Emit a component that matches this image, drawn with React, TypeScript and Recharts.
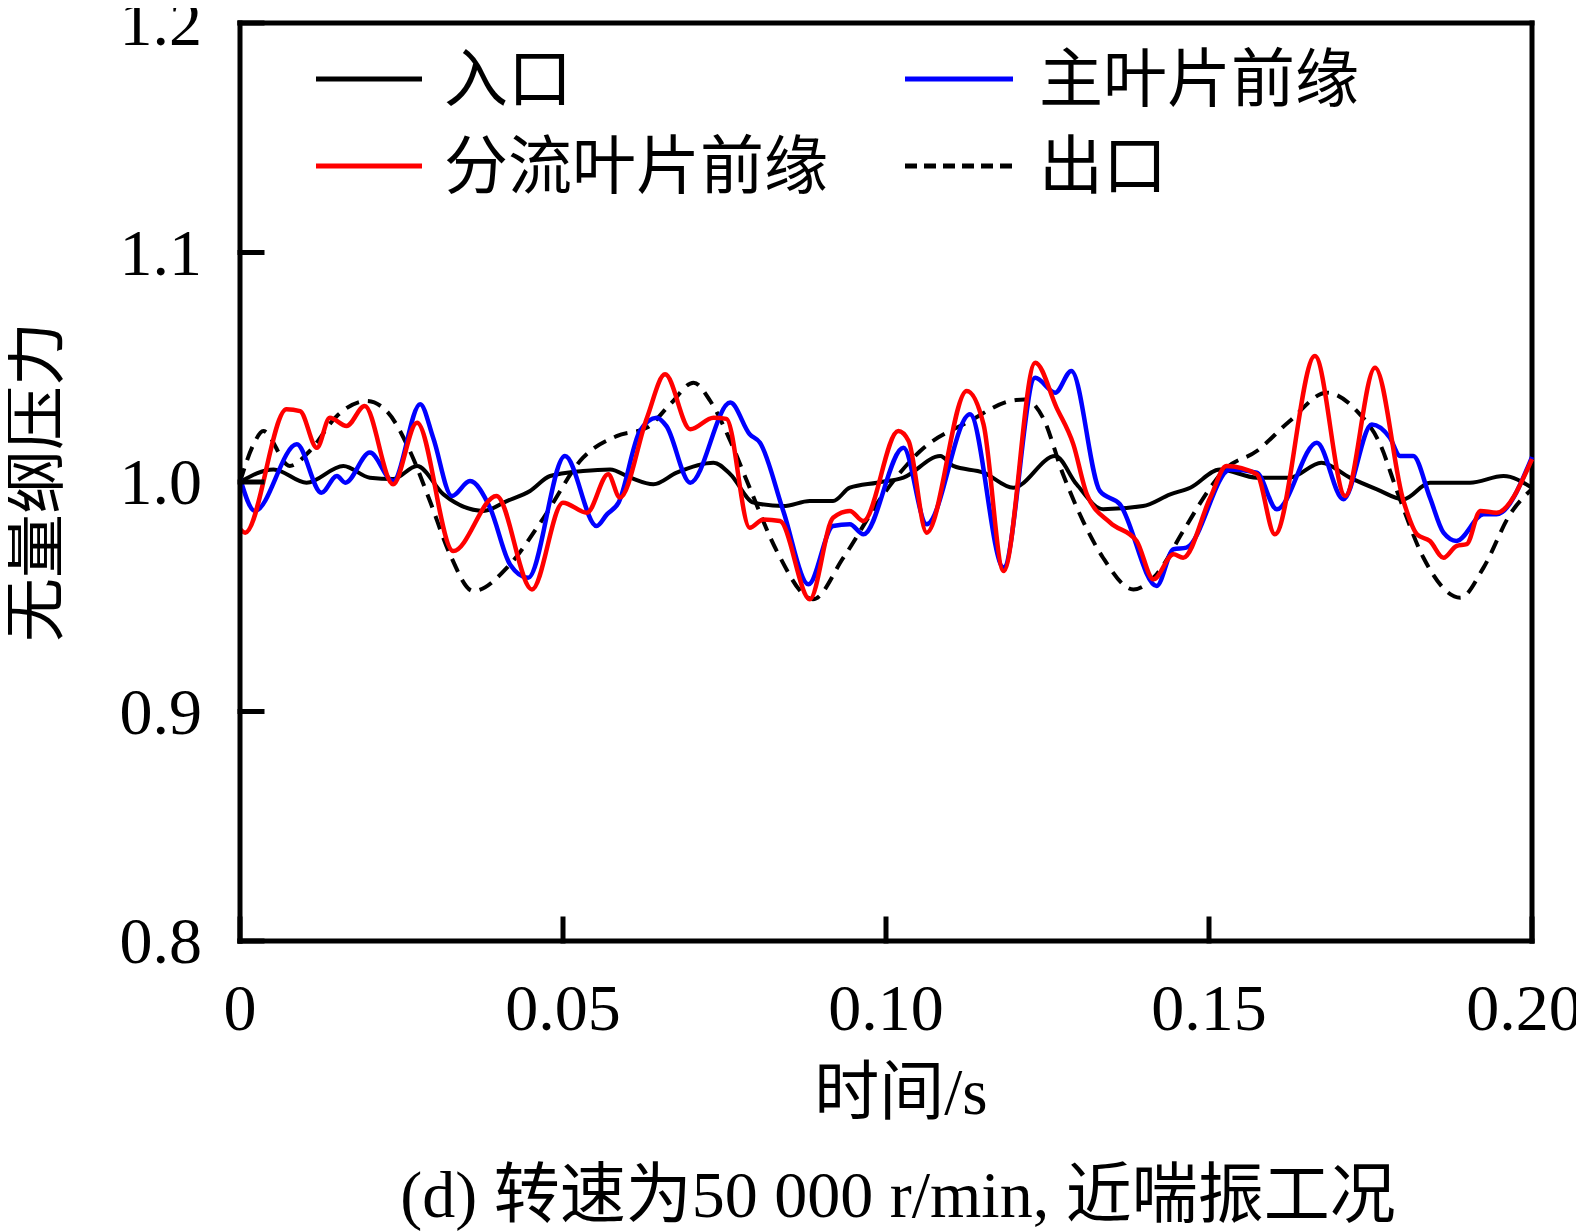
import React from 'react';
import { LineChart, Line, XAxis, YAxis, ReferenceLine } from 'recharts';

// 时间 (s) 与无量纲压力，按曲线分别取点
const inletT = [0, 0.0052, 0.0103, 0.016, 0.0201, 0.0237, 0.0274, 0.0315, 0.0377, 0.0413, 0.0449, 0.048, 0.0531, 0.0573, 0.0604, 0.064, 0.0676, 0.0733, 0.0759, 0.0795, 0.0841, 0.0882, 0.0918, 0.0944, 0.0986, 0.1027, 0.1084, 0.1104, 0.1151, 0.1197, 0.1262, 0.1295, 0.1336, 0.1398, 0.144, 0.1471, 0.1517, 0.1574, 0.1625, 0.1674, 0.1718, 0.176, 0.1801, 0.1842, 0.1904, 0.1956, 0.2];
const inletP = [1.0, 1.0055, 0.9997, 1.007, 1.0019, 1.0013, 1.007, 0.9946, 0.9874, 0.9917, 0.9961, 1.0026, 1.0048, 1.0055, 1.0019, 0.999, 1.0041, 1.0084, 1.0034, 0.991, 0.9895, 0.9917, 0.9917, 0.9975, 0.9997, 1.0019, 1.0113, 1.007, 1.0041, 0.9975, 1.0113, 0.999, 0.9881, 0.9895, 0.9946, 0.9975, 1.0055, 1.0019, 1.0019, 1.0084, 1.0019, 0.9968, 0.9925, 0.9997, 0.9997, 1.0026, 0.9975];

const mainT = [0, 0.0023, 0.0088, 0.0126, 0.015, 0.0163, 0.0201, 0.0237, 0.0279, 0.0299, 0.0328, 0.0356, 0.0387, 0.0418, 0.0446, 0.0503, 0.0552, 0.0568, 0.0586, 0.0619, 0.0645, 0.066, 0.0697, 0.0759, 0.0789, 0.0805, 0.0841, 0.088, 0.0918, 0.0944, 0.0965, 0.1027, 0.1063, 0.113, 0.1182, 0.1231, 0.1262, 0.1287, 0.1331, 0.1362, 0.1419, 0.1445, 0.1465, 0.1533, 0.1574, 0.1605, 0.1667, 0.1708, 0.1752, 0.178, 0.1796, 0.1816, 0.1842, 0.1863, 0.1883, 0.1925, 0.1945, 0.2];
const mainP = [1.0017, 0.9874, 1.0164, 0.9953, 1.0026, 0.9997, 1.0128, 1.0004, 1.0339, 1.0193, 0.9939, 1.0004, 0.9888, 0.9641, 0.9583, 1.0113, 0.9808, 0.9859, 0.991, 1.0222, 1.028, 1.0244, 0.9997, 1.0346, 1.0208, 1.0171, 0.9874, 0.9554, 0.9808, 0.9816, 0.9772, 1.0149, 0.9816, 1.0295, 0.9627, 1.0454, 1.0389, 1.0484, 0.9961, 0.9903, 0.9547, 0.9707, 0.9714, 1.0055, 1.0041, 0.9881, 1.0171, 0.9925, 1.0251, 1.0193, 1.0113, 1.0113, 0.9932, 0.9779, 0.9743, 0.9859, 0.9859, 1.0109];

const splitT = [0, 0.0008, 0.0072, 0.0093, 0.0119, 0.0139, 0.0165, 0.0193, 0.0237, 0.0274, 0.033, 0.0397, 0.0452, 0.05, 0.0537, 0.057, 0.0588, 0.063, 0.0658, 0.0697, 0.0733, 0.0753, 0.0789, 0.081, 0.0836, 0.0882, 0.0918, 0.0944, 0.0965, 0.1019, 0.1035, 0.1063, 0.1125, 0.1151, 0.1182, 0.1231, 0.1264, 0.129, 0.1311, 0.1347, 0.1388, 0.1414, 0.1445, 0.146, 0.1502, 0.1527, 0.1574, 0.1602, 0.1664, 0.1711, 0.1757, 0.1801, 0.1822, 0.1842, 0.1863, 0.1883, 0.1899, 0.192, 0.1945, 0.2];
const splitP = [0.9795, 0.9779, 1.0317, 1.0309, 1.0149, 1.028, 1.0244, 1.0331, 0.999, 1.0258, 0.9699, 0.9939, 0.9532, 0.991, 0.9866, 1.0034, 0.9932, 1.028, 1.0469, 1.023, 1.028, 1.0275, 0.9801, 0.9837, 0.983, 0.9489, 0.9844, 0.9874, 0.983, 1.0222, 1.0179, 0.9779, 1.0397, 1.0251, 0.9612, 1.052, 1.0324, 1.0164, 0.9946, 0.9823, 0.9743, 0.9576, 0.9685, 0.967, 0.9932, 1.007, 1.0034, 0.9772, 1.0549, 0.9939, 1.0498, 0.9917, 0.9772, 0.9743, 0.967, 0.9721, 0.9729, 0.9874, 0.9866, 1.01];

const outletT = [0, 0.0021, 0.0036, 0.0077, 0.0108, 0.015, 0.0196, 0.0227, 0.0263, 0.0294, 0.0325, 0.0361, 0.0418, 0.047, 0.0531, 0.0583, 0.063, 0.0666, 0.0702, 0.0728, 0.0759, 0.0789, 0.0831, 0.0887, 0.0934, 0.0996, 0.1053, 0.113, 0.1192, 0.1215, 0.1243, 0.1274, 0.1305, 0.1336, 0.1383, 0.1419, 0.146, 0.1502, 0.1522, 0.1574, 0.1625, 0.1682, 0.1729, 0.1765, 0.1791, 0.1832, 0.1889, 0.1925, 0.1966, 0.2];
const outletP = [1.0, 1.0164, 1.0222, 1.007, 1.0135, 1.0288, 1.0353, 1.0309, 1.0135, 0.9917, 0.9685, 0.9525, 0.9641, 0.9844, 1.0106, 1.02, 1.0237, 1.0339, 1.0433, 1.0353, 1.0179, 0.9975, 0.9699, 0.9489, 0.967, 0.9946, 1.0135, 1.0266, 1.0353, 1.036, 1.028, 1.0034, 0.983, 0.967, 0.9532, 0.9598, 0.9786, 0.9975, 1.0048, 1.0135, 1.0266, 1.0389, 1.0309, 1.0164, 0.9961, 0.967, 0.9496, 0.9627, 0.9859, 0.997];

const timeTicks = [0, 0.05, 0.1, 0.15, 0.2];
const timeTickLabels = ['0', '0.05', '0.10', '0.15', '0.20'];
const pressureTicks = [0.8, 0.9, 1.0, 1.1, 1.2];
const pressureTickLabels = ['0.8', '0.9', '1.0', '1.1', '1.2'];

const seriesNames = ['入口', '主叶片前缘', '分流叶片前缘', '出口'];

const toRows = (t: number[], p: number[]) => t.map((v, i) => ({ t: v, p: p[i] }));

const FONT = '"Liberation Serif", "Times New Roman", "Noto Sans CJK SC", serif';
const axisStyle = { stroke: '#000', strokeWidth: 5, strokeLinecap: 'square' as const };

const W = 1584;
const H = 1231;

const legendItems = [
  { name: seriesNames[0], color: '#000', dash: undefined, x1: 316, x2: 422, tx: 444, y: 79 },
  { name: seriesNames[1], color: '#0000ff', dash: undefined, x1: 905, x2: 1013, tx: 1039, y: 79 },
  { name: seriesNames[2], color: '#ff0000', dash: undefined, x1: 316, x2: 422, tx: 444, y: 166 },
  { name: seriesNames[3], color: '#000', dash: '12 7', x1: 905, x2: 1013, tx: 1039, y: 166 },
];

const XTick = (props: any) => {
  const { x, y, payload, index } = props;
  const label = timeTickLabels[timeTicks.indexOf(payload.value)] ?? String(payload.value);
  // 最右侧标签稍向左收，避免超出画面
  const shift = index === timeTicks.length - 1 ? -8 : 0;
  return (
    <text x={x + shift} y={y} textAnchor="middle" dy="0.71em" fontSize={66} fontFamily={FONT} fill="#000">
      {label}
    </text>
  );
};

const YTick = (props: any) => {
  const { x, y, payload } = props;
  const label = pressureTickLabels[pressureTicks.indexOf(payload.value)] ?? String(payload.value);
  return (
    <text x={x} y={y} textAnchor="end" dy="0.34em" fontSize={66} fontFamily={FONT} fill="#000">
      {label}
    </text>
  );
};

const BottomLabels = () => (
  <g>
    <text x={901} y={1092} textAnchor="middle" dominantBaseline="central" fontSize={65} fontFamily={FONT} fill="#000">
      时间/s
    </text>
    <text x={898} y={1194} textAnchor="middle" dominantBaseline="central" fontSize={66} fontFamily={FONT} fill="#000">
      (d) 转速为50 000 r/min, 近喘振工况
    </text>
  </g>
);

const LeftLabel = () => (
  <text x={35} y={482} transform="rotate(-90 35 482)" textAnchor="middle" dominantBaseline="central" fontSize={64} fontFamily={FONT} fill="#000">
    无量纲压力
  </text>
);

export default function App() {
  return (
    <div style={{ position: 'relative', width: W, height: H, margin: '-8px 0 0 -8px' }}>
      <LineChart width={W} height={H} margin={{ top: 23, right: 52, bottom: 190, left: 0 }}>
        <XAxis
          dataKey="t"
          type="number"
          domain={[0, 0.2]}
          ticks={timeTicks}
          height={100}
          axisLine={axisStyle}
          tickLine={axisStyle}
          tickSize={-22}
          tickMargin={64}
          tick={XTick}
          label={BottomLabels}
          interval={0}
        />
        <YAxis
          type="number"
          domain={[0.8, 1.2]}
          ticks={pressureTicks}
          width={240}
          axisLine={axisStyle}
          tickLine={axisStyle}
          tickSize={-22}
          tickMargin={60}
          tick={YTick}
          label={LeftLabel}
          interval={0}
        />
        <ReferenceLine y={1.2} stroke="#000" strokeWidth={5} strokeLinecap="square" />
        <ReferenceLine x={0.2} stroke="#000" strokeWidth={5} strokeLinecap="square" />
        <Line data={toRows(inletT, inletP)} dataKey="p" name={seriesNames[0]} type="monotone" stroke="#000" strokeWidth={4} dot={false} isAnimationActive={false} />
        <Line data={toRows(outletT, outletP)} dataKey="p" name={seriesNames[3]} type="monotone" stroke="#000" strokeWidth={4} strokeDasharray="14 9" dot={false} isAnimationActive={false} />
        <Line data={toRows(mainT, mainP)} dataKey="p" name={seriesNames[1]} type="monotone" stroke="#0000ff" strokeWidth={4.5} dot={false} isAnimationActive={false} />
        <Line data={toRows(splitT, splitP)} dataKey="p" name={seriesNames[2]} type="monotone" stroke="#ff0000" strokeWidth={4.5} dot={false} isAnimationActive={false} />
      </LineChart>
      <svg width={W} height={220} style={{ position: 'absolute', left: 0, top: 0, pointerEvents: 'none' }}>
        {legendItems.map((it) => (
          <g key={it.name}>
            <line x1={it.x1} x2={it.x2} y1={it.y} y2={it.y} stroke={it.color} strokeWidth={5} strokeDasharray={it.dash} />
            <text x={it.tx} y={it.y} dominantBaseline="central" fontSize={64} fontFamily={FONT} fill="#000">
              {it.name}
            </text>
          </g>
        ))}
      </svg>
    </div>
  );
}
